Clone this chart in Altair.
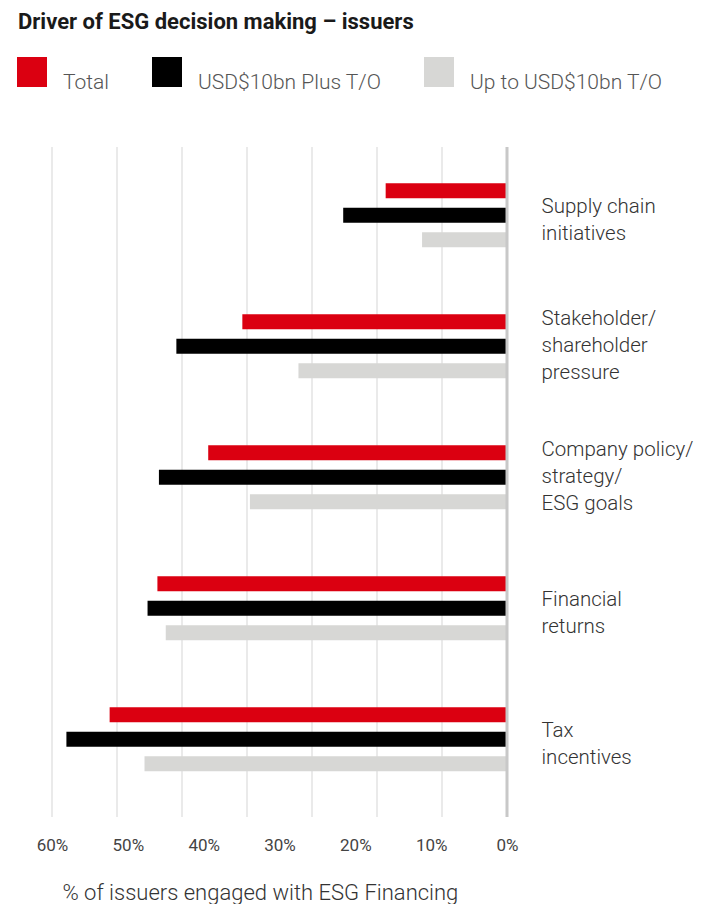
import altair as alt
import pandas as pd

categories = [
    "Supply chain|initiatives",
    "Stakeholder/|shareholder|pressure",
    "Company policy/|strategy/|ESG goals",
    "Financial|returns",
    "Tax|incentives",
]
series = ["Total", "USD$10bn Plus T/O", "Up to USD$10bn T/O"]
total_vals = [16.0, 34.9, 39.4, 46.1, 52.4]
plus_vals = [21.6, 43.6, 45.9, 47.4, 58.1]
upto_vals = [11.2, 27.5, 33.9, 45.0, 47.8]
x_ticks = [0, 10, 20, 30, 40, 50, 60]
grid_vals = [8.571, 17.143, 25.714, 34.286, 42.857, 51.429, 60.0]
colors = ["#db0011", "#000000", "#d7d7d5"]

rows = []
for s, vals in zip(series, [total_vals, plus_vals, upto_vals]):
    for c, v in zip(categories, vals):
        rows.append({"category": c, "series": s, "value": v})
df = pd.DataFrame(rows)

xscale = alt.Scale(domain=[0, 60], reverse=True, nice=False, zero=True)
xaxis = alt.Axis(
    values=x_ticks, labelExpr="datum.value + '%'", grid=False, domain=False,
    ticks=False, labelPadding=20, labelFontSize=17, labelColor="#444",
    labelFont="Roboto", labelFlush=False,
    title="% of issuers engaged with ESG Financing",
    titleFont="Roboto", titleFontSize=22, titleFontWeight=300,
    titleColor="#333", titleAlign="left", titleX=10, titleY=82,
    titleBaseline="alphabetic",
)

grid = alt.Chart(pd.DataFrame({"value": grid_vals})).mark_rule(
    color="#e3e3e3", strokeWidth=1.5
).encode(x=alt.X("value:Q", scale=xscale, axis=xaxis))

bars = alt.Chart(df).mark_bar().encode(
    x=alt.X("value:Q", scale=xscale, axis=xaxis),
    y=alt.Y(
        "category:N", sort=categories,
        scale=alt.Scale(paddingInner=0.4, paddingOuter=0.257, align=0.43),
        axis=alt.Axis(
            orient="right", labelExpr="split(datum.label, '|')", domain=False,
            ticks=False, labelPadding=34, labelAlign="left",
            labelBaseline="middle", labelFontSize=20.5, labelLineHeight=27,
            labelOffset=alt.condition(
                "length(split(datum.label, '|')) > 2", alt.value(-27), alt.value(-8)
            ),
            labelColor="#333", labelFont="Roboto", labelFontWeight=300,
            labelLimit=300, title=None,
        ),
    ),
    yOffset=alt.YOffset(
        "series:N", sort=series,
        scale=alt.Scale(paddingInner=0.388, paddingOuter=0.3),
    ),
    color=alt.Color(
        "series:N", sort=series,
        scale=alt.Scale(domain=series, range=colors),
        legend=alt.Legend(
            title=None, orient="none", legendX=-35, legendY=-90,
            direction="horizontal", symbolType="square", symbolSize=900,
            symbolStrokeWidth=0, symbolOpacity=1, labelFontSize=21,
            labelFont="Roboto", labelFontWeight=300, labelColor="#555",
            labelBaseline="top", labelOffset=16, columnPadding=42,
            labelLimit=400,
        ),
    ),
)

zero = alt.Chart(pd.DataFrame({"value": [0]})).mark_rule(
    color="#c8c8c8", strokeWidth=3
).encode(x=alt.X("value:Q", scale=xscale, axis=xaxis))

chart = alt.layer(grid, bars, zero).properties(
    width=455,
    height=670,
    autosize="none",
    padding={"left": 44, "top": 139, "right": 187, "bottom": 87},
    title=alt.TitleParams(
        "Driver of ESG decision making – issuers", anchor="start",
        frame="group", font="Roboto", fontSize=22, fontWeight="bold",
        color="#1a1a1a", dx=-34, offset=6, baseline="alphabetic",
    ),
).configure_view(stroke=None)

chart.save("out.html", embed_options={"renderer": "svg", "actions": False})
